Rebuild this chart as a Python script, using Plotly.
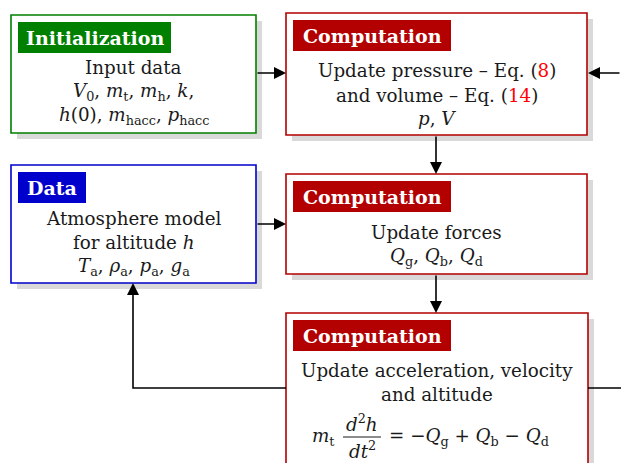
import plotly.graph_objects as go

W, H = 621, 463

# ---- content (text data) ----
node_ids = ["init", "press", "atmo", "forces", "accel"]
node_titles = ["Initialization", "Computation", "Data", "Computation", "Computation"]
node_lines = [
    ["Input data",
     "<i>V</i><sub>0</sub>, <i>m</i><sub>t</sub>, <i>m</i><sub>h</sub>, <i>k</i>,",
     "<i>h</i>(0), <i>m</i><sub>hacc</sub>, <i>p</i><sub>hacc</sub>"],
    ["Update pressure – Eq. (<span style='color:#ff0000'>8</span>)",
     "and volume – Eq. (<span style='color:#ff0000'>14</span>)",
     "<i>p</i>, <i>V</i>"],
    ["Atmosphere model",
     "for altitude <i>h</i>",
     "<i>T</i><sub>a</sub>, <i>ρ</i><sub>a</sub>, <i>p</i><sub>a</sub>, <i>g</i><sub>a</sub>"],
    ["Update forces",
     "<i>Q</i><sub>g</sub>, <i>Q</i><sub>b</sub>, <i>Q</i><sub>d</sub>"],
    ["Update acceleration, velocity",
     "and altitude"],
]
eq_left = "<i>m</i><sub>t</sub>"
eq_num = "<i>d</i><sup>2</sup><i>h</i>"
eq_den = "<i>dt</i><sup>2</sup>"
eq_right = "= −<i>Q</i><sub>g</sub> + <i>Q</i><sub>b</sub> − <i>Q</i><sub>d</sub>"

# ---- layout geometry ----
boxes = {
    "init":   dict(x0=11, y0=15, x1=256, y1=133, color="#008000", hw=153, lines_y=[67, 92, 116]),
    "press":  dict(x0=286, y0=13, x1=587, y1=135, color="#b30000", hw=158, lines_y=[70, 95, 118]),
    "atmo":   dict(x0=11, y0=165, x1=256, y1=283, color="#0000cc", hw=68, lines_y=[218, 242, 267]),
    "forces": dict(x0=286, y0=174, x1=587, y1=274, color="#b30000", hw=158, lines_y=[232, 257]),
    "accel":  dict(x0=286, y0=313, x1=588, y1=475, color="#b30000", hw=158, lines_y=[370, 394]),
}
SERIF = "DejaVu Serif"
FS = 18.3
HFS = 19

fig = go.Figure()
shapes = []
annotations = []

for nid, title, lines in zip(node_ids, node_titles, node_lines):
    b = boxes[nid]
    # shadow
    shapes.append(dict(type="rect", xref="x", yref="y",
                       x0=b["x0"] + 6, y0=b["y0"] + 6, x1=b["x1"] + 6, y1=b["y1"] + 6,
                       fillcolor="#d9d9d9", line=dict(width=0), layer="below"))
    # box
    shapes.append(dict(type="rect", xref="x", yref="y",
                       x0=b["x0"], y0=b["y0"], x1=b["x1"], y1=b["y1"],
                       fillcolor="white", line=dict(color=b["color"], width=1.6), layer="below"))
    # header
    hx0, hy0 = b["x0"] + 7, b["y0"] + 7
    shapes.append(dict(type="rect", xref="x", yref="y",
                       x0=hx0, y0=hy0, x1=hx0 + b["hw"], y1=hy0 + 31,
                       fillcolor=b["color"], line=dict(width=0), layer="below"))
    annotations.append(dict(x=hx0 + b["hw"] / 2, y=hy0 + 16, xref="x", yref="y",
                            text="<b>" + title + "</b>", showarrow=False,
                            font=dict(family=SERIF, size=HFS, color="white"),
                            xanchor="center", yanchor="middle"))
    cx = (b["x0"] + b["x1"]) / 2
    for ly, txt in zip(b["lines_y"], lines):
        annotations.append(dict(x=cx, y=ly, xref="x", yref="y", text=txt, showarrow=False,
                                font=dict(family=SERIF, size=FS, color="#1a1a1a"),
                                xanchor="center", yanchor="middle"))

# equation in last box
annotations += [
    dict(x=337, y=437, text=eq_left, xanchor="right"),
    dict(x=362, y=423, text=eq_num, xanchor="center"),
    dict(x=362, y=450, text=eq_den, xanchor="center"),
    dict(x=387, y=437, text=eq_right, xanchor="left"),
]
for a in annotations[-4:]:
    a.update(xref="x", yref="y", showarrow=False, yanchor="middle",
             font=dict(family=SERIF, size=FS, color="#1a1a1a"))
shapes.append(dict(type="line", xref="x", yref="y", x0=343, x1=381, y0=437, y1=437,
                   line=dict(color="#1a1a1a", width=1)))

# connectors
LW = 1.6
shapes.append(dict(type="path", xref="x", yref="y", path="M 286 388 L 133 388 L 133 292",
                   line=dict(color="black", width=LW)))
shapes.append(dict(type="line", xref="x", yref="y", x0=588, y0=388, x1=621, y1=388,
                   line=dict(color="black", width=LW)))

arrows = [
    ((256, 73), (286, 73)),
    ((621, 73), (588, 73)),
    ((436, 135), (436, 174)),
    ((256, 224), (286, 224)),
    ((436, 274), (436, 313)),
    ((133, 296), (133, 283)),
]
for (tx, ty), (hx, hy) in arrows:
    annotations.append(dict(x=hx, y=hy, ax=tx, ay=ty, xref="x", yref="y", axref="x", ayref="y",
                            text="", showarrow=True, arrowhead=2, arrowsize=1.5,
                            arrowwidth=LW, arrowcolor="black", standoff=0))

fig.update_layout(
    width=W, height=H, autosize=False,
    margin=dict(l=0, r=0, t=0, b=0),
    paper_bgcolor="white", plot_bgcolor="white",
    xaxis=dict(range=[0, W], visible=False, fixedrange=True),
    yaxis=dict(range=[H, 0], visible=False, fixedrange=True),
    shapes=shapes, annotations=annotations, showlegend=False,
)
fig.write_html("out.html", config={"displayModeBar": False},
               post_script="document.body.style.margin='0';document.body.style.overflow='hidden';")
